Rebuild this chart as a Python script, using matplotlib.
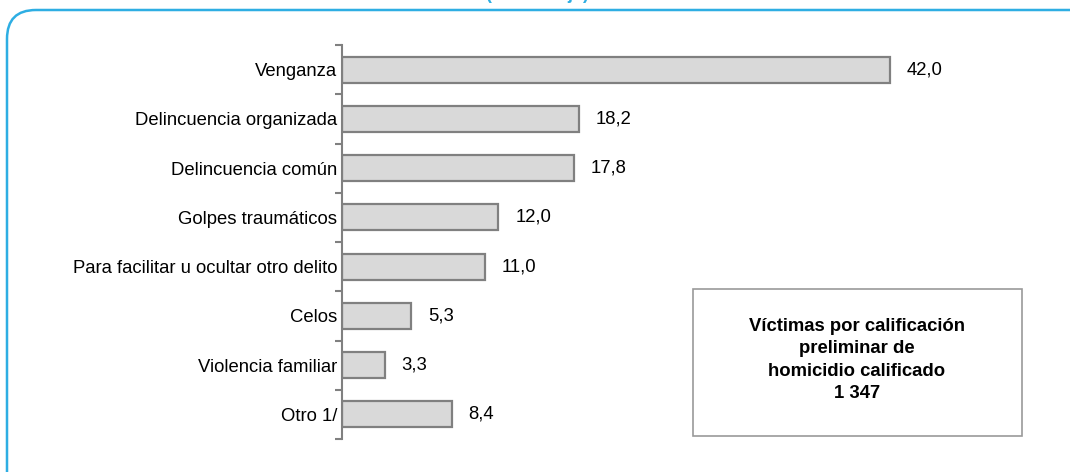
import matplotlib
matplotlib.use("Agg")
import matplotlib.pyplot as plt
from matplotlib.patches import FancyBboxPatch, Rectangle
from matplotlib.ticker import FixedLocator
from matplotlib import font_manager

categories = ["Venganza", "Delincuencia organizada", "Delincuencia común",
              "Golpes traumáticos", "Para facilitar u ocultar otro delito",
              "Celos", "Violencia familiar", "Otro 1/"]
values = [42.0, 18.2, 17.8, 12.0, 11.0, 5.3, 3.3, 8.4]
value_labels = ["42,0", "18,2", "17,8", "12,0", "11,0", "5,3", "3,3", "8,4"]
box_text = "Víctimas por calificación\npreliminar de\nhomicidio calificado\n1 347"
top_text = "(Porcentaje)"

names = {f.name for f in font_manager.fontManager.ttflist}
fam = ["Liberation Sans Narrow", "Liberation Sans", "DejaVu Sans"]
fam = [f for f in fam if f in names] or ["DejaVu Sans"]
plt.rcParams['font.family'] = fam

W, H = 1070, 472
fig = plt.figure(figsize=(W / 100, H / 100), dpi=100)

# rounded border
border = FancyBboxPatch((7 / W, -0.2), 1.2, (H - 10) / H + 0.2,
                        boxstyle="round,pad=0,rounding_size=0.027",
                        transform=fig.transFigure, fill=False,
                        edgecolor="#2eaee3", linewidth=1.8, mutation_aspect=W / H)
fig.patches.append(border)
fig.text(537 / W, 1.0 + 1.5 / H, top_text, ha="center", va="baseline",
         color="#2eaee3", fontsize=13, fontweight="bold")

ax = fig.add_axes([342 / W, 33 / H, 652 / W, 394 / H])
y = list(range(len(categories)))
ax.barh(y, values, height=0.53, color="#d9d9d9", edgecolor="#808080", linewidth=1.6)
ax.set_xlim(0, 50)
ax.set_ylim(len(categories) - 0.5, -0.5)
ax.set_yticks(y)
ax.set_yticklabels(categories, fontsize=13.3)
ax.yaxis.set_minor_locator(FixedLocator([i - 0.5 for i in range(len(categories) + 1)]))
ax.tick_params(axis="y", which="major", length=0, pad=3.5)
ax.tick_params(axis="y", which="minor", length=5, width=1.5, color="#808080")
ax.set_xticks([])
for s in ["top", "right", "bottom"]:
    ax.spines[s].set_visible(False)
ax.spines["left"].set_color("#808080")
ax.spines["left"].set_linewidth(1.5)
for yi, v, lab in zip(y, values, value_labels):
    ax.annotate(lab, (v, yi), xytext=(12, 0), textcoords="offset points",
                ha="left", va="center", fontsize=13.3)

# info box
fig.patches.append(Rectangle((693 / W, (H - 436) / H), 329 / W, 147 / H,
                             transform=fig.transFigure, fill=False,
                             edgecolor="#9a9a9a", linewidth=1.2))
fig.text(857 / W, (H - 360) / H, box_text, ha="center", va="center",
         fontsize=13.3, fontweight="bold", linespacing=1.4)

fig.savefig("out.png", dpi=100)
